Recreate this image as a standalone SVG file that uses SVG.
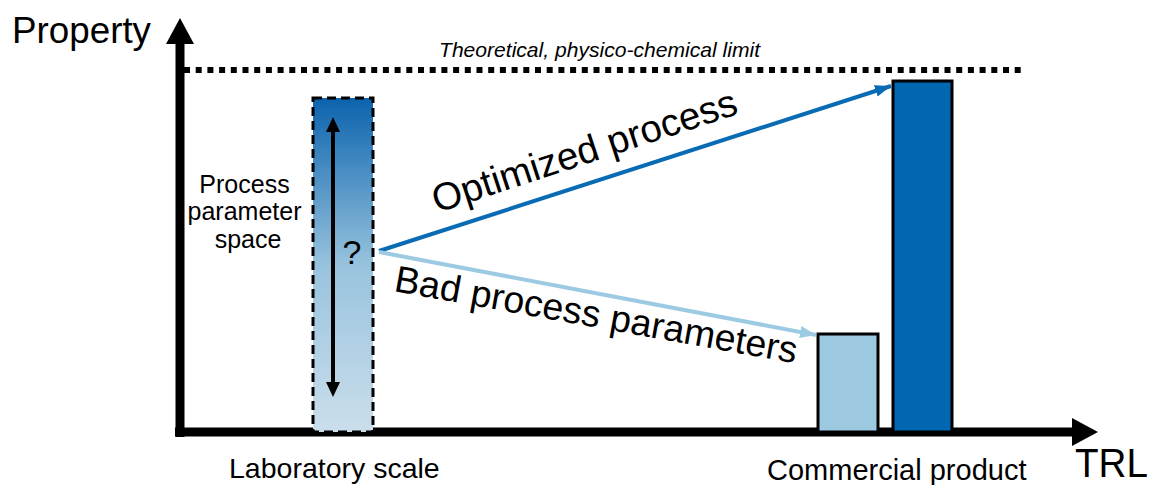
<svg xmlns="http://www.w3.org/2000/svg" width="1153" height="485" viewBox="0 0 1153 485">
<defs>
<linearGradient id="grad" x1="0" y1="0" x2="0" y2="1">
<stop offset="0" stop-color="#0b63ad"/>
<stop offset="0.5" stop-color="#98c3de"/>
<stop offset="1" stop-color="#cbdeeb"/>
</linearGradient>
<marker id="ahBlue" markerUnits="userSpaceOnUse" markerWidth="18" markerHeight="14" refX="16" refY="6" orient="auto">
<path d="M0,0 L16,6 L0,12 Z" fill="#0a6bb5"/>
</marker>
<marker id="ahLight" markerUnits="userSpaceOnUse" markerWidth="18" markerHeight="14" refX="16" refY="6" orient="auto">
<path d="M0,0 L16,6 L0,12 Z" fill="#9ccae3"/>
</marker>
</defs>
<style>
text{font-family:"Liberation Sans",Arial,sans-serif;fill:#000}
.axis{stroke:#000;stroke-width:9;fill:none}
.bar{stroke:#000;stroke-width:3}
</style>

<g id="axes">
<line class="axis" x1="180" y1="437" x2="180" y2="42"/>
<polygon points="180,18 166,44 194,44" fill="#000"/>
<line class="axis" x1="175" y1="432" x2="1074" y2="432"/>
<polygon points="1098,432 1072,418 1072,446" fill="#000"/>
<text x="12" y="43" font-size="36" textLength="139" lengthAdjust="spacingAndGlyphs">Property</text>
<text x="1075" y="477" font-size="40" textLength="73" lengthAdjust="spacingAndGlyphs">TRL</text>
</g>

<g id="limit">
<line x1="184" y1="70" x2="1024" y2="70" stroke="#000" stroke-width="6" stroke-dasharray="6 5.7"/>
<text x="439" y="57" font-size="21" font-style="italic" textLength="321" lengthAdjust="spacingAndGlyphs">Theoretical, physico-chemical limit</text>
</g>

<g id="lab-bar">
<rect x="313" y="98" width="60" height="334" fill="url(#grad)" stroke="#000" stroke-width="3" stroke-dasharray="9 5"/>
<line x1="333" y1="130" x2="333" y2="384" stroke="#000" stroke-width="4"/>
<polygon points="333,117 326,132 340,132" fill="#000"/>
<polygon points="333,397 326,382 340,382" fill="#000"/>
<text x="352" y="264" font-size="34" text-anchor="middle">?</text>
</g>

<g id="param-label">
<text font-size="25" text-anchor="middle">
<tspan x="248" y="193">Process</tspan>
<tspan x="248" y="220">parameter</tspan>
<tspan x="248" y="248">space</tspan>
</text>
</g>

<g id="bad-bar">
<rect class="bar" x="818" y="334" width="60" height="98" fill="#9cc8e0"/>
</g>
<g id="good-bar">
<rect class="bar" x="893" y="81" width="59" height="351" fill="#0067b0"/>
</g>

<g id="connectors">
<line x1="379" y1="251" x2="891" y2="86" stroke="#0a6bb5" stroke-width="4" marker-end="url(#ahBlue)"/>
<line x1="379" y1="252" x2="816" y2="335" stroke="#9ccae3" stroke-width="4" marker-end="url(#ahLight)"/>
<text transform="translate(437,213) rotate(-18.2)" font-size="38.5">Optimized process</text>
<text transform="translate(393,291) rotate(10.2)" font-size="37.5">Bad process parameters</text>
</g>

<g id="x-labels">
<text x="229" y="478" font-size="28.5">Laboratory scale</text>
<text x="767" y="480" font-size="29">Commercial product</text>
</g>
</svg>
